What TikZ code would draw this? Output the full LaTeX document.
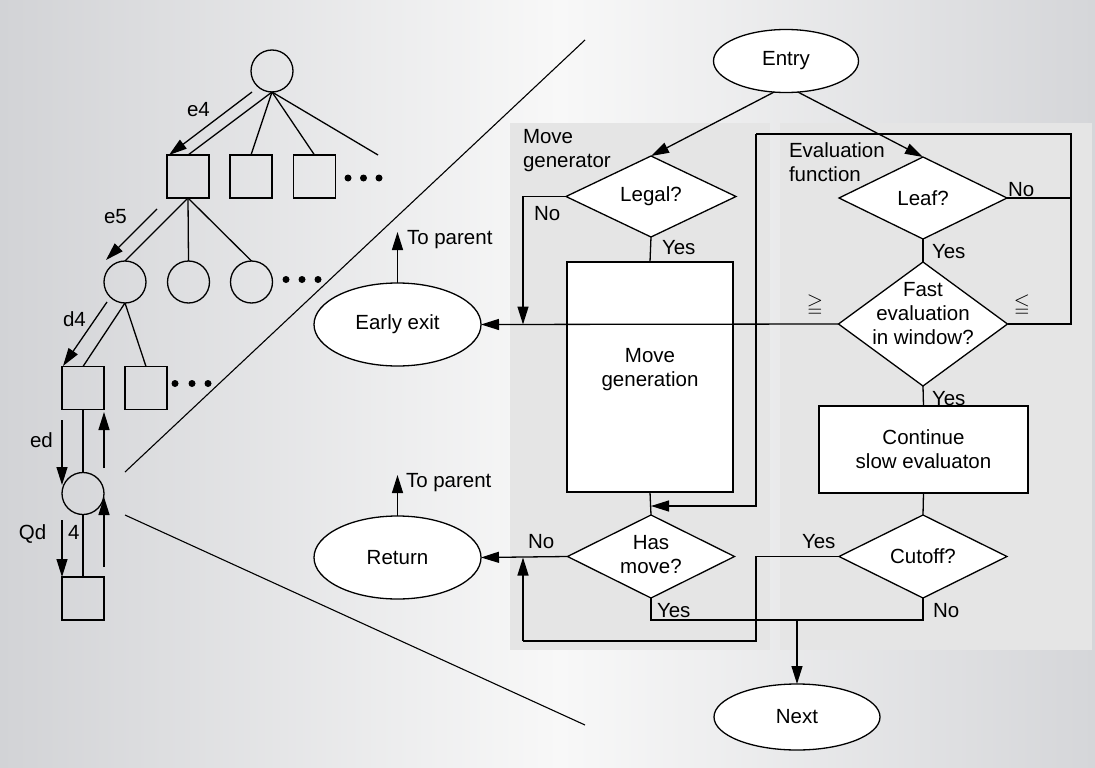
\documentclass[tikz,border=0pt]{standalone}
\usepackage{amssymb}
\usepackage{fontspec}
\setmainfont{Liberation Sans}
\usetikzlibrary{shapes.geometric,arrows.meta,calc}

\definecolor{bgL}{RGB}{210,211,214}
\definecolor{bgM}{RGB}{248,248,248}
\definecolor{bgR}{RGB}{213,214,217}
\definecolor{panel}{RGB}{229,229,229}

\begin{document}
\begin{tikzpicture}[x=1pt,y=-1pt,
  every node/.style={inner sep=0pt, outer sep=0pt, font=\fontsize{20.5}{24}\selectfont},
  ln/.style={line width=1.3pt},
  arr/.style={ln, -{Triangle[length=18pt,width=11pt]}},
  term/.style={ellipse, draw, line width=1.3pt, fill=white, minimum width=167pt, minimum height=83pt},
  dec/.style={diamond, draw, line width=1.3pt, fill=white, minimum width=169pt, minimum height=82pt},
  proc/.style={rectangle, draw, line width=1.3pt, fill=white, align=center},
  tcirc/.style={circle, draw, line width=1.3pt, minimum size=42pt},
  tsq/.style={rectangle, draw, line width=1.3pt, minimum width=42pt, minimum height=43pt},
  lab/.style={anchor=base west},
  dot/.style={circle, fill=black, minimum size=7pt},
  rel/.style={font=\fontsize{20.74}{24}\selectfont}
]
\useasboundingbox (0,0) rectangle (1095,768);

% background and the two panels
\fill[left color=bgL, right color=bgM] (0,0) rectangle (560,768);
\fill[left color=bgM, right color=bgR] (560,0) rectangle (1095,768);
\fill[panel] (510,123) rectangle (770,650);
\fill[panel] (780,123) rectangle (1092,650);

% ---------------- search tree ----------------
\node[tcirc] (r)  at (272,71) {};
\node[tsq]   (s1) at (188,176.5) {};
\node[tsq]   (s2) at (251,176.5) {};
\node[tsq]   (s3) at (314.5,176.5) {};
\coordinate (s4) at (378,155);
\node[dot] (d11) at (348,178) {};
\node[dot] (d12) at (363.5,178) {};
\node[dot] (d13) at (379,178) {};

\node[tcirc] (c1) at (125,282) {};
\node[tcirc] (c2) at (188.5,282) {};
\node[tcirc] (c3) at (251.5,282) {};
\node[dot] (d21) at (286,279.5) {};
\node[dot] (d22) at (302,279.5) {};
\node[dot] (d23) at (318,279.5) {};

\node[tsq] (t1) at (83,388) {};
\node[tsq] (t2) at (146,388) {};
\node[dot] (d31) at (175,383.5) {};
\node[dot] (d32) at (192,383.5) {};
\node[dot] (d33) at (208,383.5) {};

\node[tcirc] (q) at (83,493.5) {};
\node[tsq]   (b) at (83,598.5) {};

\foreach \n in {s1,s2,s3} \draw[ln] (r.south) -- (\n.north);
\draw[ln] (r.south) -- (s4);
\foreach \n in {c1,c2,c3} \draw[ln] (s1.south) -- (\n.north);
\foreach \n in {t1,t2} \draw[ln] (c1.south) -- (\n.north);
\draw[ln] (t1.south) -- (q.north);
\draw[ln] (q.south) -- (b.north);

% traversal arrows along the tree
\coordinate (e4a) at (252,92);   \coordinate (e4b) at (169,155);
\coordinate (e5a) at (157,209);  \coordinate (e5b) at (106,260);
\coordinate (d4a) at (107,302);  \coordinate (d4b) at (63,366);
\coordinate (eda) at (62,420);   \coordinate (edb) at (62,485);
\coordinate (u1a) at (104,468);  \coordinate (u1b) at (104,412);
\coordinate (qda) at (62,520);   \coordinate (qdb) at (62,577);
\coordinate (u2a) at (104,567);  \coordinate (u2b) at (104,497);
\draw[arr] (e4a) -- (e4b);
\draw[arr] (e5a) -- (e5b);
\draw[arr] (d4a) -- (d4b);
\draw[arr] (eda) -- (edb);
\draw[arr] (u1a) -- (u1b);
\draw[arr] (qda) -- (qdb);
\draw[arr] (u2a) -- (u2b);

\node[lab] (le4) at (187,116) {e4};
\node[lab] (le5) at (104,223) {e5};
\node[lab] (ld4) at (63,326) {d4};
\node[lab] (led) at (30,447) {ed};
\node[lab] (lqd) at (19,539) {Qd};
\node[lab] (l4)  at (68,539) {4};

% magnification lines
\coordinate (z1a) at (125,472); \coordinate (z1b) at (585,40);
\coordinate (z2a) at (125,515); \coordinate (z2b) at (585,725);
\draw[line width=1.1pt] (z1a) -- (z1b);
\draw[line width=1.1pt] (z2a) -- (z2b);

% ---------------- flowchart ----------------
\node[term, minimum width=145pt, minimum height=63pt] (entry) at (786,61) {Entry};
\node[term] (early) at (397.5,324.5) {Early exit};
\node[term] (ret)   at (397.5,557.5) {Return};
\node[term, minimum width=166pt, minimum height=66pt] (next) at (797,717) {Next};

\node[anchor=north west, align=left] (pmove) at (523,129.3) {Move\\generator};
\node[anchor=north west, align=left] (peval) at (789,143) {Evaluation\\function};

\node[dec, minimum width=170pt, minimum height=81pt] (legal) at (651,196.5) {};
\node (legal-t) at (651,196.5) {Legal?};
\node[proc, minimum width=166pt, minimum height=230pt] (mgen) at (650,377) {};
\node[align=center] (mgen-t) at (650,370) {Move\\generation};
\node[dec, minimum width=167pt, minimum height=83pt] (hasm) at (651,556.5) {};
\node[align=center] (hasm-t) at (651,555) {Has\\move?};

\node[dec, minimum width=168pt, minimum height=82pt] (leaf) at (923,198) {};
\node (leaf-t) at (923,198) {Leaf?};
\node[dec, minimum width=169pt, minimum height=124pt] (fast) at (923,324) {};
\node[align=center] (fast-t) at (923,314) {Fast\\evaluation\\in window?};
\node[proc, minimum width=209pt, minimum height=87pt] (cont) at (923.5,449.5) {Continue\\slow evaluaton};
\node[dec, minimum width=168pt, minimum height=83pt] (cut) at (923,556.5) {};
\node (cut-t) at (923,556.5) {Cutoff?};

% junction points of the connectors
\coordinate (nx) at (523,324.5);
\coordinate (ltr) at (1071,134);
\coordinate (ltl) at (756,134);
\coordinate (hin) at (651,506);
\coordinate (cyr) at (756,641);
\coordinate (cyl) at (523,641);
\coordinate (cyt) at (523,557.5);
\coordinate (join) at (797,620);
\coordinate (up1) at (397.5,232);
\coordinate (up2) at (397.5,475);

\draw[arr] (entry.-111) -- (legal.north);
\draw[arr] (entry.-69) -- (leaf.north);

\draw[arr] (legal.west) -| (nx);
\draw[ln] (legal.south) -- (mgen.north);
\draw[ln] (mgen.south) -- (hasm.north);

% "No" and out-of-window branches loop back round to the move generator
\draw[ln] (leaf.east) -- (leaf.east -| ltr);
\draw[ln] (fast.east) -| (ltr) -- (ltl);
\draw[arr] (ltl) |- (hin);
\draw[arr] (fast.west) -- (early.east);
\draw[ln] (leaf.south) -- (fast.north);
\draw[ln] (fast.south) -- (cont.north);
\draw[ln] (cont.south) -- (cut.north);

\draw[ln] (cut.west) -| (cyr) -- (cyl);
\draw[arr] (cyl) -- (cyt);
\draw[ln] (cut.south) |- (join);
\draw[ln] (hasm.south) |- (join);
\draw[arr] (join) -- (next.north);
\draw[arr] (hasm.west) -- (ret.east);

\draw[arr] (early.north) -- (up1);
\draw[arr] (ret.north) -- (up2);

% branch labels
\node[lab] (tp1) at (407,244) {To parent};
\node[lab] (tp2) at (406,487) {To parent};
\node[lab] (legal-no)  at (534,220) {No};
\node[lab] (legal-yes) at (662,254) {Yes};
\node[lab] (leaf-no)   at (1008,196.5) {No};
\node[lab] (leaf-yes)  at (932,258) {Yes};
\node[rel] (ge) at (815,305) {$\geqq$};
\node[rel] (le) at (1022,305) {$\leqq$};
\node[lab] (fast-yes)  at (932,405) {Yes};
\node[lab] (cut-yes)   at (802,548) {Yes};
\node[lab] (cut-no)    at (933,617) {No};
\node[lab] (hasm-no)   at (528,548) {No};
\node[lab] (hasm-yes)  at (657,617) {Yes};
\end{tikzpicture}
\end{document}
